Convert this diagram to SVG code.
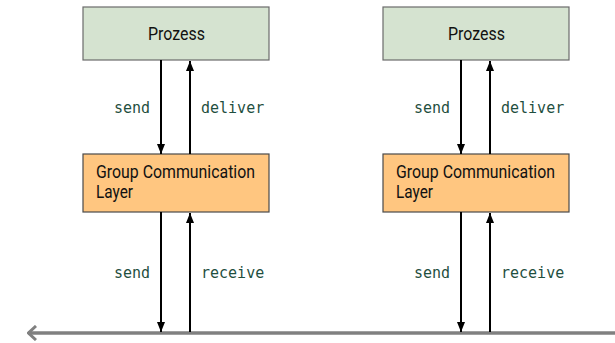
<svg xmlns="http://www.w3.org/2000/svg" width="615" height="343" viewBox="0 0 615 343">
<defs>
<style>
.proc{fill:#d5e3d0;stroke:#6b6b6b;stroke-width:1.2}
.gcl{fill:#ffc680;stroke:#4a4a4a;stroke-width:1.2}
.t{font-family:Roboto,"Liberation Sans",sans-serif;font-size:17.5px;fill:#111}
.lbl{font-family:"DejaVu Sans Mono","Liberation Mono",monospace;font-size:15px;fill:#1f4f3f}
.ar{stroke:#000;stroke-width:2;fill:none}
.bus{stroke:#808080;stroke-width:3.5;fill:none}
</style>
<marker id="ah" viewBox="0 0 10 10" refX="10" refY="5" markerWidth="10" markerHeight="11" markerUnits="userSpaceOnUse" orient="auto">
<path d="M0,1 L10,5 L0,9 Z" fill="#000"/>
</marker>
<marker id="open" viewBox="0 0 10 16" refX="1" refY="8" markerWidth="10" markerHeight="16" markerUnits="userSpaceOnUse" orient="auto">
<path d="M9,1 L1.5,8 L9,15" fill="none" stroke="#808080" stroke-width="3"/>
</marker>
</defs>
<g id="prozess1"><rect class="proc" x="83" y="7" width="186" height="53"/><text class="t" x="148" y="40" textLength="57" lengthAdjust="spacingAndGlyphs">Prozess</text></g>
<g id="gcl1"><rect class="gcl" x="83" y="154" width="186" height="58"/><text class="t" x="96" y="178" textLength="159" lengthAdjust="spacingAndGlyphs">Group Communication</text><text class="t" x="96" y="198" textLength="37" lengthAdjust="spacingAndGlyphs">Layer</text></g>
<g id="prozess2"><rect class="proc" x="383" y="7" width="186" height="53"/><text class="t" x="448" y="40" textLength="57" lengthAdjust="spacingAndGlyphs">Prozess</text></g>
<g id="gcl2"><rect class="gcl" x="383" y="154" width="186" height="58"/><text class="t" x="396" y="178" textLength="159" lengthAdjust="spacingAndGlyphs">Group Communication</text><text class="t" x="396" y="198" textLength="37" lengthAdjust="spacingAndGlyphs">Layer</text></g>
<g id="connectors">
<line class="bus" x1="28" y1="333" x2="615" y2="333" marker-start="url(#open)"/>
<line class="ar" x1="161" y1="60" x2="161" y2="154" marker-end="url(#ah)"/>
<line class="ar" x1="190" y1="154" x2="190" y2="61" marker-end="url(#ah)"/>
<line class="ar" x1="161" y1="212" x2="161" y2="332" marker-end="url(#ah)"/>
<line class="ar" x1="190" y1="332" x2="190" y2="213" marker-end="url(#ah)"/>
<line class="ar" x1="461" y1="60" x2="461" y2="154" marker-end="url(#ah)"/>
<line class="ar" x1="490" y1="154" x2="490" y2="61" marker-end="url(#ah)"/>
<line class="ar" x1="461" y1="212" x2="461" y2="332" marker-end="url(#ah)"/>
<line class="ar" x1="490" y1="332" x2="490" y2="213" marker-end="url(#ah)"/>
<text class="lbl" x="114" y="113">send</text>
<text class="lbl" x="201" y="113">deliver</text>
<text class="lbl" x="114" y="278">send</text>
<text class="lbl" x="201" y="278">receive</text>
<text class="lbl" x="414" y="113">send</text>
<text class="lbl" x="501" y="113">deliver</text>
<text class="lbl" x="414" y="278">send</text>
<text class="lbl" x="501" y="278">receive</text>
</g>
</svg>
